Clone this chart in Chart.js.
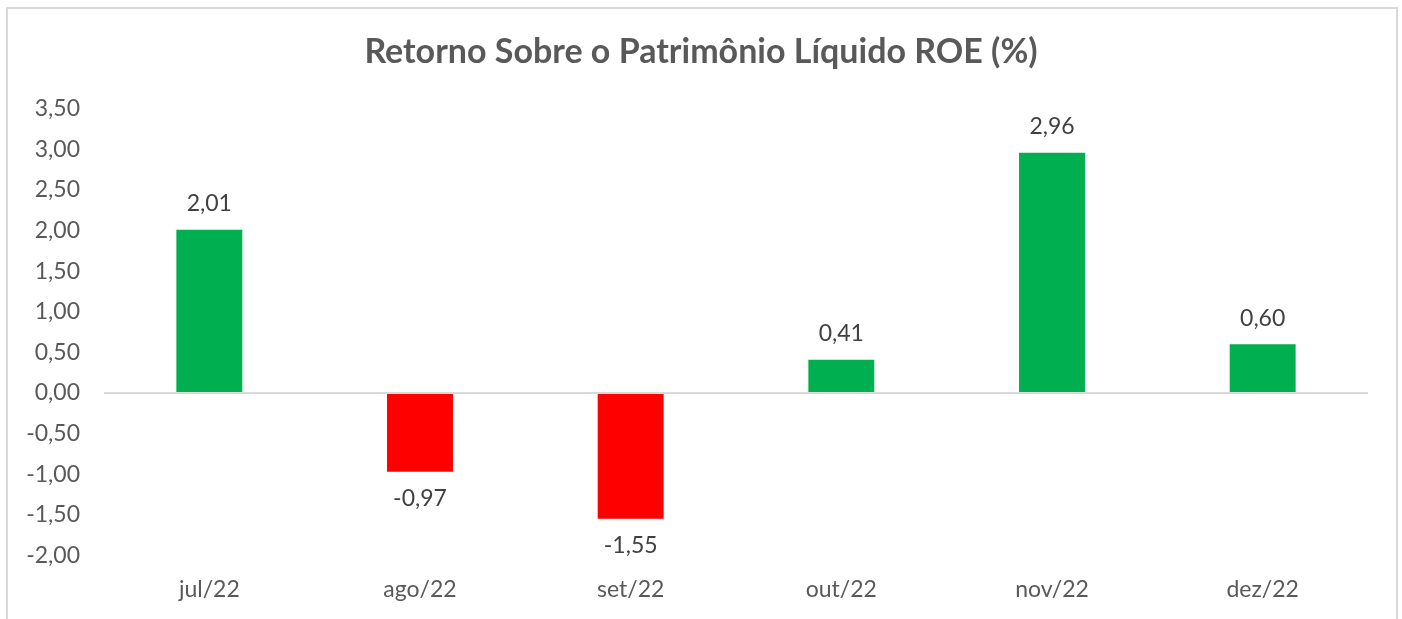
<!DOCTYPE html>
<html>
<head>
<meta charset="utf-8">
<script src="https://cdn.jsdelivr.net/npm/chart.js@4/dist/chart.umd.min.js"></script>
<style>
  html, body { margin: 0; padding: 0; background: #fff; overflow: hidden; }
  #frame { position: absolute; left: 6px; top: 7px; width: 1388px; height: 640px; border: 2px solid #d9d9d9; }
  #wrap { position: absolute; left: 0; top: 0; width: 1402px; height: 626px; }
</style>
</head>
<body>
<div id="frame"></div>
<div id="wrap"><canvas id="roeChart"></canvas></div>
<script>
const months = ['jul/22', 'ago/22', 'set/22', 'out/22', 'nov/22', 'dez/22'];
const roeValues = [2.01, -0.97, -1.55, 0.41, 2.96, 0.60];
const yMin = -2.0;
const yMax = 3.5;
const yStep = 0.5;

const fmt = (v) => v.toFixed(2).replace('.', ',');

// draws the value above / below each bar
const valueLabels = {
    id: 'valueLabels',
    afterDatasetsDraw(chart) {
        const ctx = chart.ctx;
        const meta = chart.getDatasetMeta(0);
        ctx.save();
        ctx.font = '23px Lato';
        ctx.fillStyle = '#404040';
        ctx.textAlign = 'center';
        ctx.textBaseline = 'middle';
        meta.data.forEach((bar, i) => {
            const v = roeValues[i];
            const y = v >= 0 ? bar.y - 26 : bar.y + 27;
            ctx.fillText(fmt(v), bar.x, y);
        });
        ctx.restore();
    }
};

new Chart(document.getElementById('roeChart'), {
    type: 'bar',
    data: {
        labels: months,
        datasets: [{
            data: roeValues,
            backgroundColor: roeValues.map((v) => v >= 0 ? '#00B050' : '#FF0000'),
            borderWidth: 0,
            categoryPercentage: 1,
            barPercentage: 0.313,
        }],
    },
    options: {
        responsive: true,
        maintainAspectRatio: false,
        animation: false,
        layout: { padding: { left: 0, right: 0, top: 0, bottom: 3 } },
        plugins: {
            legend: { display: false },
            tooltip: { enabled: false },
            title: {
                display: true,
                text: 'Retorno Sobre o Patrimônio Líquido ROE (%)',
                color: '#595959',
                font: { family: 'Lato', size: 34, weight: 'bold' },
                padding: { top: 32, bottom: 36 },
            },
        },
        scales: {
            x: {
                grid: { display: false, drawTicks: false },
                border: { display: false },
                ticks: { color: '#595959', font: { family: 'Lato', size: 23 }, padding: 20 },
            },
            y: {
                min: yMin,
                max: yMax,
                afterFit: (scale) => { scale.width = 104; },
                border: { display: false },
                grid: {
                    drawTicks: false,
                    lineWidth: 2,
                    color: (c) => (c.tick && c.tick.value === 0 ? '#d9d9d9' : 'rgba(0,0,0,0)'),
                },
                ticks: {
                    stepSize: yStep,
                    color: '#595959',
                    font: { family: 'Lato', size: 23 },
                    padding: 24,
                    callback: (v) => fmt(v),
                },
            },
            // empty right-hand spacer so the title stays centred on the frame
            ySpacer: {
                position: 'right',
                min: yMin,
                max: yMax,
                afterFit: (scale) => { scale.width = 34; },
                border: { display: false },
                grid: { display: false, drawTicks: false },
                ticks: { display: false },
            },
        },
    },
    plugins: [valueLabels],
});
</script>
</body>
</html>
